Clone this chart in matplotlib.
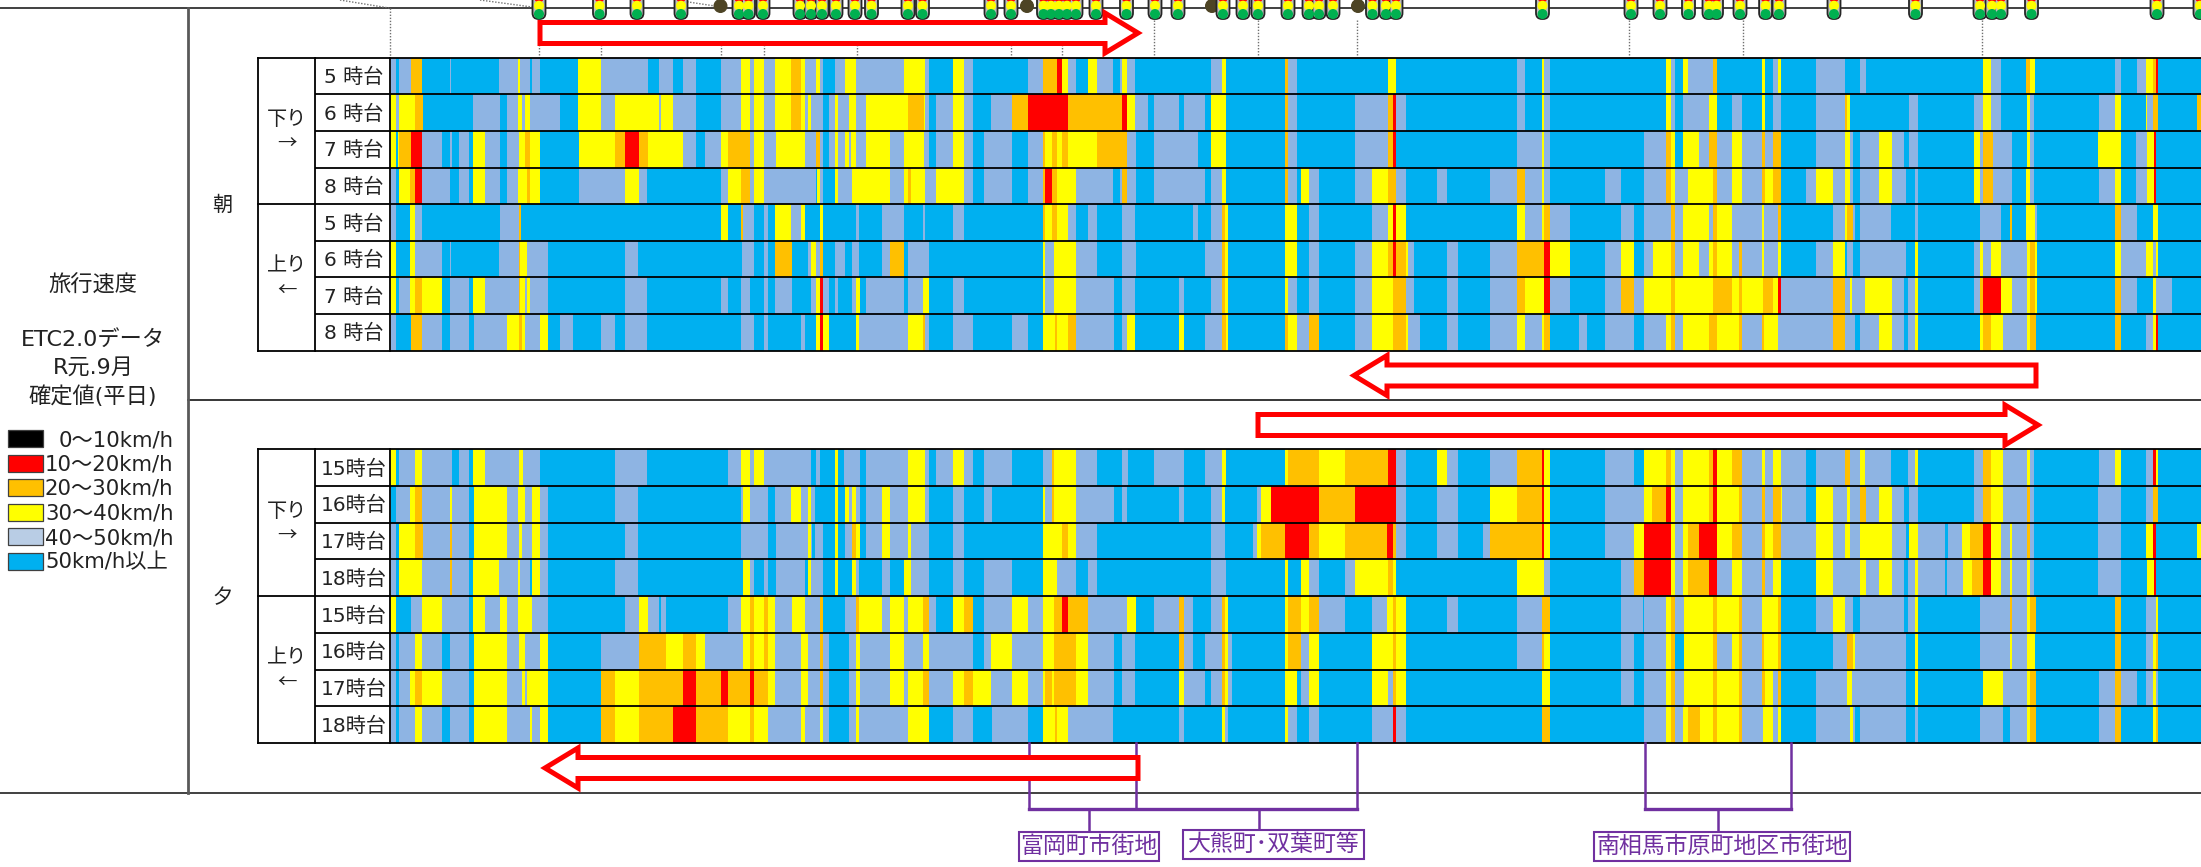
#%% IMPORTS                    ~~~~~~~~~~~~~~~~~~~~~~~~~~~~~~~~~~~~~~~~~~~~
import matplotlib
matplotlib.use('Agg')
import matplotlib.pyplot as plt
from matplotlib.patches import FancyBboxPatch, Polygon, Rectangle, Circle

plt.rcParams['font.family'] = ['DejaVu Sans', 'Noto Sans CJK JP']

#%% DATA                       ~~~~~~~~~~~~~~~~~~~~~~~~~~~~~~~~~~~~~~~~~~~~
# speed classes, same order as the legend
K, R, O, Y, L, B = 0, 1, 2, 3, 4, 5
legend_labels = ['0～10km/h', '10～20km/h', '20～30km/h', '30～40km/h', '40～50km/h', '50km/h以上']
legend_colors = ['#000000', '#FF0000', '#FFC000', '#FFFF00', '#B9CDE5', '#00B0F0']
class_colors = {K: '#000000', R: '#FF0000', O: '#FFC000', Y: '#FFFF00', L: '#8EB4E3', B: '#00B0F0'}

# each row: (end of section along the road, speed class)
road_start = 390.7
am_down_5 = [(396,L),(399,B),(411,L),(421.5,O),(450,B),(451,L),(499,B),(518,L),(520,Y),(529.5,L),(532,B),(540,L),(578,B),(601,Y),(648,L),(659,B),(673,L),(683,B),(696,L),(721,B),(741,L),(750,Y),(754,L),(764,Y),(775,L),(791,Y),(801,O),(805,Y),(816,L),(820,Y),(823,L),(835,B),(845,L),(856,Y),(904,L),(925,Y),(929,L),(953,B),(964,Y),(973,L),(1028,B),(1043,L),(1057,O),(1062,R),(1068,Y),(1076,L),(1088,B),(1097,Y),(1113,L),(1120,B),(1122,L),(1127,Y),(1135,L),(1211,B),(1222,L),(1226,Y),(1285,B),(1287.5,O),(1297,L),(1388,B),(1396,Y),(1517,B),(1525,L),(1542,B),(1544,Y),(1550,L),(1666,B),(1670.5,Y),(1675,L),(1683,B),(1688,Y),(1713,L),(1717,O),(1762,B),(1765,Y),(1773,B),(1778,L),(1781,Y),(1816,B),(1845,L),(1860,B),(1866,L),(1983,B),(1991,Y),(2001,L),(2025.5,B),(2030,O),(2035,Y),(2115,B),(2121,L),(2137,B),(2146,L),(2153,Y),(2156,O),(2158,R),(2201,B)]
am_down_6 = [(396,Y),(399,L),(415,Y),(423,O),(473,B),(500,L),(507,B),(518,L),(522,Y),(525,L),(529.5,Y),(560,L),(578,B),(601,Y),(615,L),(659,Y),(661,L),(673,Y),(696,L),(721,B),(741,L),(750,Y),(754,L),(764,Y),(775,L),(791,Y),(801,O),(805,Y),(808,L),(811,Y),(823,L),(829,B),(835,L),(837.5,Y),(849,L),(856,Y),(866,L),(908,Y),(923.6,O),(925,Y),(929,L),(936,B),(953,L),(964,Y),(973,L),(991,B),(1012,L),(1028,O),(1068,R),(1122,O),(1127,R),(1135,Y),(1148,L),(1154,B),(1179,L),(1184,B),(1205,L),(1211,B),(1226,Y),(1285,B),(1287.5,O),(1297,L),(1355,B),(1387.5,L),(1393,O),(1396,R),(1406,L),(1517,B),(1525,L),(1542,B),(1544,Y),(1550,L),(1666,B),(1670.5,Y),(1675,L),(1683,B),(1709,L),(1717,Y),(1732,B),(1742,L),(1762,B),(1765,Y),(1773,B),(1781,L),(1816,B),(1845,L),(1847,O),(1850,Y),(1909,B),(1918,L),(1974,B),(1983,L),(1991,Y),(2001,L),(2027,B),(2030,Y),(2034,L),(2099,B),(2115,L),(2121,Y),(2146,B),(2147,Y),(2153,L),(2158,O),(2197,B),(2201,O)]
am_down_7 = [(396,Y),(397.5,B),(399,Y),(411,O),(421.5,R),(442,L),(450,B),(452,L),(459,B),(469,L),(473,B),(485,Y),(500,L),(507,B),(519,L),(525,Y),(530,O),(540,Y),(579,B),(615,Y),(625,O),(639,R),(648,O),(683,Y),(696,L),(705,B),(721,L),(728,Y),(750,O),(754,L),(764,Y),(776,L),(805,Y),(816,L),(820,O),(823,L),(829,B),(835,L),(837.5,Y),(845,L),(849,Y),(850.5,L),(856,Y),(866,L),(890,Y),(904,L),(923.6,Y),(929,L),(936,B),(953,L),(964,Y),(973,L),(984,B),(1012,L),(1028,B),(1043,L),(1045,O),(1052,Y),(1057,O),(1062,Y),(1068,O),(1097,Y),(1127,O),(1136,L),(1154,B),(1198,L),(1211,B),(1226,Y),(1285,B),(1287.5,O),(1297,L),(1355,B),(1387.5,L),(1393,O),(1396,R),(1517,B),(1542,L),(1544,Y),(1550,L),(1644,B),(1666,L),(1670.5,O),(1675,Y),(1683,B),(1699,Y),(1709,L),(1717,O),(1732,L),(1742,Y),(1762,L),(1765,O),(1773,L),(1781,O),(1816,B),(1845,L),(1850,Y),(1853,L),(1860,B),(1879,L),(1892,Y),(1904,L),(1909,B),(1918,L),(1974,B),(1980,Y),(1983,L),(1992.5,O),(2012,L),(2027,B),(2030,Y),(2034,L),(2098,B),(2121,Y),(2136,B),(2147,L),(2154,Y),(2156,R),(2201,B)]
am_down_8 = [(396,L),(399,B),(410,Y),(415,O),(421.5,R),(450,L),(459,B),(469,L),(473,B),(485,Y),(500,L),(507,B),(518,L),(527,Y),(530,O),(540,Y),(579,B),(625,L),(639,Y),(647,L),(721,B),(728,L),(741,Y),(750,O),(754,L),(764,Y),(815.5,L),(817,B),(820,Y),(823,L),(835,B),(837.5,Y),(852,L),(890,Y),(904,L),(908,Y),(911,O),(925,Y),(936,L),(964,Y),(973,L),(984,B),(1012,L),(1028,B),(1043,L),(1045,O),(1052,R),(1057,O),(1076,Y),(1113,L),(1120,B),(1122,L),(1127,O),(1136,L),(1154,B),(1205,L),(1211,B),(1222,L),(1226,Y),(1285,B),(1287.5,O),(1297,L),(1301,B),(1309,Y),(1319,L),(1355,B),(1372,L),(1388,Y),(1396,O),(1406,L),(1437,B),(1447,L),(1490,B),(1517,L),(1525,O),(1542,L),(1544,Y),(1550,L),(1605,B),(1621,L),(1644,B),(1666,L),(1670.5,O),(1675,Y),(1688,L),(1713,Y),(1717,O),(1732,L),(1742,Y),(1762,L),(1765,O),(1773,Y),(1781,O),(1806,B),(1816,L),(1833,Y),(1845,L),(1850,Y),(1853,L),(1860,B),(1879,L),(1892,Y),(1905.5,L),(1915,B),(1918,L),(1974,B),(1980,Y),(1983,L),(1992.5,O),(2012,L),(2025.5,B),(2030,Y),(2034,L),(2099,B),(2115,L),(2121,Y),(2136,B),(2147,L),(2154,Y),(2156,R),(2201,B)]
am_up_5 = [(396,L),(410,B),(415,Y),(421.5,L),(500,B),(519,L),(520.5,O),(721,B),(728,Y),(741,B),(742.6,O),(754,L),(764,B),(768,L),(775,B),(791,Y),(801,L),(805,Y),(820,B),(823,Y),(856,B),(859,L),(882,B),(904,L),(923,B),(925,L),(953,B),(964,L),(1043,B),(1045,O),(1052,Y),(1057,O),(1068,Y),(1076,L),(1088,B),(1097,L),(1122,B),(1135,L),(1193,B),(1198,L),(1211,B),(1222,L),(1224.6,O),(1228,Y),(1285,B),(1297,Y),(1309,B),(1319,L),(1372,B),(1387.5,L),(1393,Y),(1396,R),(1406,Y),(1517,B),(1525,Y),(1542,L),(1544,Y),(1550,O),(1570,L),(1621,B),(1634,L),(1644,B),(1670.5,L),(1675,O),(1683,L),(1709,Y),(1713,L),(1717,O),(1732,Y),(1762,L),(1764,Y),(1778,L),(1781,O),(1833,B),(1845,L),(1847,Y),(1853,O),(1855,L),(1860,B),(1891,L),(1915,B),(1918,L),(1980,B),(2001,L),(2010,B),(2012,O),(2025.5,B),(2035,Y),(2037,L),(2115,B),(2121,O),(2137,L),(2153,B),(2158,Y),(2201,B)]
am_up_6 = [(396,Y),(410,B),(415,Y),(442,L),(450,B),(451,L),(499,B),(519,L),(520,O),(527,Y),(548,L),(625,B),(638,L),(742,B),(754,L),(764,B),(768,L),(775,B),(792,O),(808,B),(811,L),(815.5,Y),(820,L),(823,O),(835,B),(845,L),(852,B),(859,L),(882,B),(890,L),(904,O),(908,B),(929,L),(1043,B),(1045,Y),(1054,L),(1076,Y),(1097,L),(1122,B),(1136,L),(1205,B),(1222,L),(1224.6,O),(1228,Y),(1285,B),(1297,Y),(1309,B),(1319,L),(1355,B),(1372,L),(1387.5,Y),(1393,O),(1396,R),(1406,O),(1408,Y),(1414,L),(1447,B),(1458,L),(1490,B),(1517,L),(1544,O),(1550,R),(1570,Y),(1605,B),(1621,L),(1634,Y),(1644,B),(1653,L),(1670.5,Y),(1675,O),(1683,L),(1699,Y),(1709,L),(1713,Y),(1717,O),(1732,Y),(1739,L),(1742,O),(1762,L),(1764,Y),(1778,L),(1781,Y),(1816,B),(1833,L),(1845,Y),(1846.5,B),(1853,L),(1860,B),(1905.5,L),(1915,B),(1918,Y),(1974,B),(1980,L),(1983,Y),(1991,L),(2001,Y),(2027,L),(2030,Y),(2035,O),(2037,Y),(2115,B),(2121,Y),(2146,L),(2153,Y),(2156,L),(2158,Y),(2201,B)]
am_up_7 = [(396,Y),(399,B),(410,L),(415,Y),(421.5,O),(442,Y),(450,B),(469,L),(473,B),(485,Y),(519,L),(520,O),(525,Y),(527,L),(530,Y),(548,L),(625,B),(647,L),(721,B),(728,L),(741,B),(750,L),(764,B),(768,L),(775,B),(792,L),(811,B),(816,L),(820,Y),(823,R),(829,L),(835,B),(837.5,L),(852,B),(856,L),(860,Y),(866,B),(904,L),(908,B),(923,L),(929,Y),(953,B),(964,L),(1043,B),(1045,Y),(1054,L),(1076,Y),(1114,L),(1122,B),(1135,L),(1179,B),(1184,L),(1211,B),(1222,L),(1224.6,O),(1228,Y),(1285,B),(1287.5,Y),(1297,L),(1309,B),(1319,L),(1355,B),(1372,L),(1393,Y),(1406,O),(1414,L),(1447,B),(1458,L),(1490,B),(1517,L),(1525,O),(1544,Y),(1550,R),(1570,L),(1605,B),(1621,L),(1634,O),(1644,L),(1670.5,Y),(1675,O),(1713,Y),(1732,O),(1739,Y),(1742,O),(1763,Y),(1773,O),(1778,Y),(1781,R),(1833,L),(1845,O),(1850,L),(1852,Y),(1865,L),(1892,Y),(1904,L),(1908,B),(1915,L),(1918,Y),(1974,B),(1980,L),(1983,O),(2001,R),(2012,Y),(2027,L),(2030,Y),(2035,O),(2037,Y),(2115,B),(2121,O),(2137,L),(2153,B),(2156,Y),(2172,L),(2201,B)]
am_up_8 = [(396,L),(411,B),(421.5,O),(442,L),(450,B),(469,L),(474,B),(507,L),(519,Y),(522,O),(525,Y),(540,L),(548,Y),(560,B),(573,L),(601,B),(615,L),(625,B),(647,L),(741,B),(754,L),(764,B),(768,L),(801,B),(805,L),(816,B),(820,Y),(823,R),(829,Y),(856,B),(859,Y),(908,L),(923,Y),(925,O),(929,L),(953,B),(973,L),(1012,B),(1028,L),(1043,B),(1055,Y),(1057,O),(1068,Y),(1076,O),(1114,L),(1122,B),(1127,L),(1135,Y),(1179,B),(1184,Y),(1205,B),(1222,L),(1226,O),(1228,Y),(1285,B),(1287.5,O),(1297,Y),(1309,L),(1319,O),(1355,B),(1372,L),(1393,Y),(1406,O),(1408,Y),(1420,L),(1447,B),(1458,L),(1490,B),(1517,L),(1525,Y),(1542,L),(1544,Y),(1550,O),(1579,B),(1587,L),(1605,B),(1634,L),(1644,B),(1666,L),(1670.5,Y),(1675,O),(1683,L),(1709,Y),(1717,O),(1739,Y),(1742,O),(1762,L),(1764,O),(1778,Y),(1833,L),(1845,O),(1855,L),(1860,B),(1879,L),(1892,Y),(1904,L),(1908,B),(1915,L),(1918,Y),(1980,B),(1983,Y),(1991,O),(2003,Y),(2027,L),(2030,Y),(2036,O),(2115,B),(2121,O),(2146,B),(2153,L),(2156,Y),(2158,R),(2201,B)]
pm_down_15 = [(396,Y),(399,B),(415,L),(421.5,Y),(452,L),(459,B),(469,L),(473,B),(485,Y),(519,L),(523,Y),(540,L),(615,B),(647,L),(728,B),(741,L),(750,Y),(754,L),(764,Y),(811,L),(816,B),(820,L),(835,B),(837.5,Y),(844,B),(860,L),(866,B),(908,L),(925,Y),(929,L),(936,B),(953,L),(964,Y),(973,L),(984,B),(1012,L),(1043,B),(1052,L),(1054,O),(1076,Y),(1097,L),(1122,B),(1128,L),(1154,B),(1184,L),(1205,B),(1222,L),(1226,Y),(1285,B),(1287.5,Y),(1319,O),(1345,Y),(1388,O),(1396,R),(1406,L),(1437,B),(1447,Y),(1458,L),(1490,B),(1517,L),(1542,O),(1544,R),(1550,Y),(1605,B),(1634,L),(1644,B),(1666,Y),(1670.5,O),(1675,Y),(1683,L),(1709,Y),(1713,O),(1717,R),(1732,Y),(1742,O),(1762,L),(1765,Y),(1773,L),(1781,Y),(1806,L),(1816,B),(1845,L),(1850,O),(1860,L),(1865,Y),(1891,L),(1908,B),(1915,L),(1918,Y),(1974,B),(1983,L),(1991,O),(2003,Y),(2027,L),(2030,Y),(2034,L),(2099,B),(2115,L),(2121,Y),(2146,B),(2153,L),(2156,R),(2158,Y),(2201,B)]
pm_down_16 = [(396,B),(410,L),(415,Y),(421.5,O),(450,L),(452,Y),(469,L),(474,B),(507,Y),(518,L),(525,Y),(532,L),(540,Y),(548,L),(615,B),(638,L),(741,B),(743,L),(750,Y),(768,L),(775,B),(791,L),(801,Y),(808,L),(811,Y),(815,L),(835,B),(837.5,Y),(845,B),(849,Y),(852,L),(856,Y),(860,L),(866,B),(882,L),(890,Y),(908,L),(925,Y),(929,L),(953,B),(964,L),(984,B),(992,L),(1043,B),(1045,Y),(1052,L),(1054,O),(1076,Y),(1114,L),(1122,B),(1127,L),(1179,B),(1184,L),(1211,B),(1222,L),(1225,Y),(1257,B),(1261,L),(1271,Y),(1319,R),(1355,O),(1396,R),(1406,L),(1437,B),(1458,L),(1490,B),(1517,Y),(1542,O),(1544,R),(1550,Y),(1605,B),(1644,L),(1652,Y),(1666,O),(1670.5,R),(1675,Y),(1683,L),(1709,Y),(1713,O),(1717,R),(1739,Y),(1742,O),(1762,L),(1765,O),(1773,L),(1781,O),(1782,Y),(1806,L),(1816,B),(1833,Y),(1847,L),(1850,Y),(1860,L),(1866,O),(1879,L),(1892,Y),(1904,L),(1909,B),(1918,L),(1974,B),(1983,L),(1991,O),(2003,Y),(2027,L),(2030,O),(2034,L),(2098,B),(2121,L),(2146,B),(2153,L),(2158,O),(2201,B)]
pm_down_17 = [(396,L),(399,B),(415,Y),(423,O),(450,L),(452,O),(469,L),(474,B),(507,Y),(519,L),(522,Y),(532,L),(540,Y),(548,L),(625,B),(638,L),(741,B),(768,L),(776,B),(808,L),(811,Y),(812,L),(815,B),(823,L),(835,B),(837.5,Y),(845,B),(852,L),(856,O),(860,Y),(866,B),(882,L),(890,Y),(908,L),(911,Y),(929,L),(953,B),(964,L),(1043,B),(1062,Y),(1068,O),(1076,Y),(1097,L),(1211,B),(1225,L),(1253,B),(1257,L),(1261,Y),(1285,O),(1309,R),(1319,O),(1345,Y),(1387,O),(1393,R),(1396,O),(1406,L),(1437,B),(1458,L),(1483,B),(1490,L),(1542,O),(1544,R),(1550,Y),(1605,B),(1634,L),(1644,Y),(1670.5,R),(1675,Y),(1683,L),(1688,Y),(1699,O),(1717,R),(1732,Y),(1742,O),(1762,L),(1765,O),(1773,Y),(1781,O),(1816,L),(1833,Y),(1845,L),(1850,Y),(1860,L),(1892,Y),(1905.5,L),(1909,B),(1918,Y),(1945,L),(1948,B),(1962,L),(1969.5,Y),(1983,O),(1991,R),(2001,Y),(2010,L),(2012,Y),(2027,L),(2030,O),(2034,L),(2098,B),(2121,L),(2146,B),(2153,Y),(2156,R),(2197,B),(2201,Y)]
pm_down_18 = [(396,L),(399,B),(421.5,Y),(450,L),(452,O),(469,L),(473,B),(499,Y),(518,L),(520,Y),(529.5,L),(532,B),(540,Y),(548,L),(615,B),(638,L),(743,B),(750,Y),(754,L),(764,B),(768,L),(776,B),(805,L),(808,B),(811,Y),(823,L),(835,B),(837.5,Y),(852,B),(856,Y),(859,L),(882,B),(890,L),(904,B),(911,Y),(929,L),(953,B),(964,L),(984,B),(1012,L),(1043,B),(1057,Y),(1076,L),(1088,B),(1097,L),(1211,B),(1226,L),(1285,B),(1288,Y),(1301,B),(1309,Y),(1319,L),(1345,B),(1355,L),(1387.5,Y),(1393,O),(1396,Y),(1517,B),(1544,Y),(1550,L),(1621,B),(1634,L),(1644,O),(1670.5,R),(1675,Y),(1683,L),(1688,Y),(1709,O),(1717,R),(1732,L),(1742,Y),(1762,L),(1765,O),(1773,L),(1781,Y),(1816,B),(1833,Y),(1860,L),(1866,Y),(1879,L),(1892,Y),(1904,L),(1908,B),(1915,L),(1918,Y),(1945,L),(1947,B),(1963,L),(1972,Y),(1983,O),(1991,R),(2001,Y),(2010,L),(2012,Y),(2027,L),(2030,Y),(2034,L),(2098,B),(2121,L),(2147,B),(2154,Y),(2156,R),(2201,B)]
pm_up_15 = [(396,Y),(411,B),(421.5,L),(442,Y),(469,L),(473,B),(485,Y),(500,L),(507,Y),(518,L),(532,Y),(548,L),(625,B),(639,L),(648,Y),(659,L),(661,B),(666,L),(728,B),(741,L),(750,Y),(754,O),(764,Y),(768,O),(775,Y),(792,L),(805,Y),(820,L),(823,O),(845,B),(856,L),(859,O),(882,Y),(890,L),(904,Y),(908,L),(923,Y),(929,O),(936,L),(953,B),(964,Y),(973,O),(984,B),(1012,L),(1028,Y),(1043,L),(1054,Y),(1062,O),(1068,R),(1088,O),(1127,L),(1136,Y),(1154,B),(1179,L),(1184,O),(1193,L),(1211,B),(1222,L),(1224.6,O),(1228,Y),(1285,B),(1287.5,Y),(1301,O),(1309,Y),(1319,O),(1345,L),(1372,B),(1387,L),(1393,Y),(1396,O),(1406,Y),(1447,B),(1458,L),(1517,B),(1542,L),(1550,O),(1621,B),(1643,L),(1644,B),(1666,L),(1670.5,Y),(1675,O),(1684,L),(1713,Y),(1717,O),(1739,Y),(1742,O),(1762,L),(1778,Y),(1781,O),(1816,B),(1833,L),(1845,Y),(1853,L),(1860,B),(1904,L),(1908,B),(1915,L),(1918,Y),(1980,B),(2010,L),(2012,O),(2027,L),(2030,Y),(2036,O),(2115,B),(2121,O),(2146,B),(2156,L),(2158,Y),(2201,B)]
pm_up_16 = [(396,L),(399,B),(415,L),(421.5,Y),(442,L),(450,B),(469,L),(474,B),(507,Y),(519,L),(525,Y),(540,L),(548,Y),(601,B),(639,L),(666,O),(683,Y),(696,O),(705,Y),(743,L),(750,Y),(754,O),(764,Y),(768,O),(775,Y),(801,L),(808,Y),(820,L),(823,O),(829,L),(849,B),(856,L),(860,Y),(890,L),(904,Y),(923,L),(929,Y),(973,L),(984,B),(991,L),(1012,Y),(1043,L),(1054,Y),(1076,O),(1088,Y),(1114,L),(1122,B),(1135,L),(1179,B),(1184,O),(1193,L),(1205,B),(1222,L),(1224.6,O),(1228,Y),(1232,L),(1285,B),(1287.5,Y),(1301,O),(1309,L),(1319,Y),(1372,B),(1393,Y),(1396,O),(1406,Y),(1517,B),(1542,L),(1544,O),(1550,Y),(1621,B),(1634,L),(1644,B),(1666,L),(1670.5,Y),(1675,O),(1684,B),(1713,Y),(1717,O),(1732,L),(1739,Y),(1742,O),(1762,L),(1764,O),(1778,Y),(1781,O),(1833,B),(1847,L),(1853,O),(1855,Y),(1905.5,L),(1915,B),(1918,Y),(1980,B),(2010,L),(2012,Y),(2027,L),(2035,Y),(2115,B),(2121,O),(2146,B),(2153,L),(2156,Y),(2158,O),(2201,B)]
pm_up_17 = [(396,L),(399,B),(410,L),(415,Y),(421.5,O),(442,Y),(469,L),(474,B),(507,Y),(522,L),(525,Y),(527,L),(548,Y),(601,B),(615,O),(639,Y),(683,O),(696,R),(721,O),(728,R),(750,O),(754,R),(768,O),(775,Y),(801,L),(808,Y),(820,L),(823,O),(829,L),(849,B),(856,L),(860,Y),(890,L),(904,Y),(908,L),(923,Y),(929,O),(953,L),(964,Y),(973,O),(991,Y),(1012,L),(1028,Y),(1043,L),(1045,Y),(1052,O),(1054,Y),(1076,O),(1088,Y),(1114,L),(1122,B),(1135,L),(1179,B),(1184,Y),(1205,L),(1211,B),(1222,L),(1224.6,O),(1228,Y),(1232,L),(1285,B),(1297,Y),(1301,B),(1309,L),(1319,Y),(1372,B),(1387.5,Y),(1393,L),(1396,O),(1406,Y),(1542,B),(1550,Y),(1621,B),(1634,L),(1644,B),(1666,L),(1670.5,Y),(1675,O),(1684,L),(1713,Y),(1717,O),(1739,Y),(1742,O),(1762,L),(1765,O),(1773,Y),(1778,L),(1781,O),(1816,B),(1847,L),(1852,Y),(1905.5,L),(1915,B),(1918,Y),(1983,B),(2003,Y),(2027,L),(2030,Y),(2036,O),(2099,B),(2115,L),(2121,O),(2137,L),(2146,B),(2153,L),(2156,Y),(2158,L),(2201,B)]
pm_up_18 = [(396,L),(399,B),(415,L),(421.5,Y),(442,L),(450,B),(469,L),(474,B),(507,Y),(529.5,L),(532,Y),(540,L),(548,Y),(601,B),(615,O),(639,Y),(673,O),(696,R),(728,O),(750,Y),(754,O),(768,Y),(801,L),(805,Y),(820,L),(823,Y),(829,L),(849,B),(856,L),(859,Y),(908,L),(929,Y),(953,B),(973,L),(992,B),(1028,L),(1043,B),(1055,Y),(1057,O),(1068,Y),(1113,L),(1179,B),(1184,L),(1222,B),(1225,Y),(1228,L),(1285,B),(1288,Y),(1297,L),(1309,B),(1319,L),(1372,B),(1393,L),(1396,R),(1406,L),(1542,B),(1550,O),(1644,B),(1666,L),(1670.5,Y),(1675,O),(1683,L),(1688,Y),(1700,O),(1713,Y),(1717,O),(1739,Y),(1742,O),(1763,L),(1773,Y),(1778,L),(1781,Y),(1816,B),(1850,L),(1853,Y),(1855,L),(1860,B),(1905.5,L),(1915,B),(1918,L),(1980,B),(2003,L),(2010,B),(2027,L),(2030,Y),(2036,O),(2099,B),(2115,L),(2121,O),(2153,B),(2156,Y),(2158,O),(2201,B)]

am_rows = [am_down_5, am_down_6, am_down_7, am_down_8, am_up_5, am_up_6, am_up_7, am_up_8]
pm_rows = [pm_down_15, pm_down_16, pm_down_17, pm_down_18, pm_up_15, pm_up_16, pm_up_17, pm_up_18]
am_hours = ['5 時台', '6 時台', '7 時台', '8 時台', '5 時台', '6 時台', '7 時台', '8 時台']
pm_hours = ['15時台', '16時台', '17時台', '18時台', '15時台', '16時台', '17時台', '18時台']

# road furniture along the top strip
signal_pos = [539,599.5,637,681,739,748.5,763,800,811,822,836,855,871.5,908,922.5,991,1011,1043.5,1051,1059,1067,1076,1096,1126.5,1155,1178,1223,1243,1258,1288,1309,1319,1333,1372.5,1386,1396,1542.5,1631,1660,1688.5,1709,1716.5,1740,1765.6,1779,1834,1915.5,1980,1992,2001,2031.5,2157,2200]
junction_pos = [720.5,741,1027,1212,1358]
leader_pos = [390,539,601,720.5,763.5,856.5,1011,1062,1154,1258,1357,1629,1743,1982]

#%% FUNCTION DEFINITIONS        ~~~~~~~~~~~~~~~~~~~~~~~~~~~~~~~~~~~~~~~~~~~~
def draw_speed_rows(ax, rows, hours, top, row_h):
    """One broken bar per hour row, then the grid and hour labels on top."""
    for i, row in enumerate(rows):
        segs, cols = [], []
        start = road_start
        for end, cls in row:
            segs.append((start, end - start))
            cols.append(class_colors[cls])
            start = end
        ax.broken_barh(segs, (top + i * row_h, row_h), facecolors=cols, linewidth=0, antialiased=False, zorder=2)
        ax.text(354, top + (i + 0.5) * row_h + 1.5, hours[i], ha='center', va='center', fontsize=14.5, color='#222222', zorder=6)
    bottom = top + 8 * row_h
    for i in range(9):
        ax.plot([315, 2201], [top + i * row_h] * 2, color='black', lw=1.3, zorder=3, solid_capstyle='butt')
    ax.plot([258, 315], [top, top], color='black', lw=1.3, zorder=3)
    ax.plot([258, 315], [bottom, bottom], color='black', lw=1.3, zorder=3)
    ax.plot([258, 315], [top + 4 * row_h] * 2, color='black', lw=1.3, zorder=3)
    for x in [258, 315, 390]:
        ax.plot([x, x], [top, bottom], color='black', lw=1.3, zorder=3)
    # direction labels
    ax.text(287, top + 1.69 * row_h, '下り', ha='center', va='center', fontsize=14.5, color='#222222')
    ax.text(287, top + 2.35 * row_h, '→', ha='center', va='center', fontsize=14, color='#222222', family='Noto Sans CJK JP')
    ax.text(287, top + 5.68 * row_h, '上り', ha='center', va='center', fontsize=14.5, color='#222222')
    ax.text(287, top + 6.35 * row_h, '←', ha='center', va='center', fontsize=14, color='#222222', family='Noto Sans CJK JP')


def draw_signal(ax, x):
    body = FancyBboxPatch((x - 5, -12), 10, 29.5, boxstyle='round,pad=1.5,rounding_size=6',
                          facecolor='#BFBFBF', edgecolor='#262626', lw=1.3, zorder=5)
    ax.add_patch(body)
    ax.add_patch(Circle((x, -2.6), 4.3, color='#FF0000', zorder=6))
    ax.add_patch(Circle((x, 5.7), 4.3, color='#FFFF00', zorder=6))
    ax.add_patch(Circle((x, 14), 4.3, color='#00B050', zorder=6))


def draw_arrow(ax, x_tail, x_tip, y):
    """Hollow red block arrow, tail to tip, either direction."""
    sign = 1 if x_tip > x_tail else -1
    base = x_tip - sign * 33
    pts = [(x_tail, y - 10.5), (base, y - 10.5), (base, y - 20), (x_tip, y), (base, y + 20), (base, y + 10.5), (x_tail, y + 10.5)]
    ax.add_patch(Polygon(pts, closed=True, facecolor='white', edgecolor='#FF0000', lw=3.6, joinstyle='miter', zorder=7))


def draw_bracket(ax, left, right, stems, low):
    for x in [left, right]:
        ax.plot([x, x], [743, low], color=PURPLE, lw=1.8, zorder=4)
    ax.plot([left, right], [low, low], color=PURPLE, lw=2.4, zorder=4)
    for x, end in stems:
        ax.plot([x, x], [low, end], color=PURPLE, lw=1.8, zorder=4)


def draw_label(ax, x0, x1, y0, y1, text):
    ax.add_patch(Rectangle((x0, y0), x1 - x0, y1 - y0, facecolor='white', edgecolor=PURPLE, lw=1.5, zorder=5))
    ax.text((x0 + x1) / 2, (y0 + y1) / 2, text, ha='center', va='center', fontsize=16.5, color=PURPLE, zorder=6,
            family=['Noto Sans CJK JP', 'DejaVu Sans'])

#%% SELF-RUN                   ~~~~~~~~~~~~~~~~~~~~~~~~~~~~~~~~~~~~~~~~~~~~
PURPLE = '#7030A0'

fig = plt.figure(figsize=(22.01, 8.67), dpi=100)
ax = fig.add_axes([0, 0, 1, 1])
ax.set_xlim(0, 2201)
ax.set_ylim(867, 0)
ax.axis('off')

# frame lines
ax.plot([0, 2201], [8.3, 8.3], color='#404040', lw=1.4, zorder=1)
ax.plot([0, 2201], [793, 793], color='#404040', lw=1.4, zorder=1)
ax.plot([188, 2201], [400, 400], color='black', lw=1.1, zorder=1)
ax.plot([188, 188], [8.3, 793], color='#595959', lw=2, zorder=1)

# top strip
for x in leader_pos:
    ax.plot([x, x], [8.3 if x == 390 else 20, 57], color='#707070', lw=1.0, ls=(0, (1, 1.2)), zorder=1)
ax.plot([340, 389], [0, 8], color='#707070', lw=1.0, ls=(0, (1, 1.2)), zorder=1)
ax.plot([480, 532], [0, 7], color='#707070', lw=1.0, ls=(0, (1, 1.2)), zorder=1)
ax.plot([675, 715], [0, 6], color='#707070', lw=1.0, ls=(0, (1, 1.2)), zorder=1)
for x in junction_pos:
    ax.add_patch(Circle((x, 6), 6.3, color='#4D4425', zorder=4))
for x in signal_pos:
    draw_signal(ax, x)

draw_speed_rows(ax, am_rows, am_hours, 57.7, 36.6)
draw_speed_rows(ax, pm_rows, pm_hours, 449.3, 36.7)

draw_arrow(ax, 540, 1138, 33)
draw_arrow(ax, 2036, 1354, 375.5)
draw_arrow(ax, 1258, 2038, 425)
draw_arrow(ax, 1138, 545, 768)

ax.text(222.7, 205, '朝', ha='center', va='center', fontsize=14.5, color='#222222')
ax.text(222.7, 598, '夕', ha='center', va='center', fontsize=14.5, color='#222222')

# left hand panel
ax.text(93, 285, '旅行速度', ha='center', va='center', fontsize=16, color='#222222')
ax.text(93, 340, 'ETC2.0データ', ha='center', va='center', fontsize=16, color='#222222')
ax.text(93, 368, 'R元.9月', ha='center', va='center', fontsize=16, color='#222222')
ax.text(93, 396, '確定値(平日)', ha='center', va='center', fontsize=16, color='#222222')

for i, (label, col) in enumerate(zip(legend_labels, legend_colors)):
    y = 438.5 + i * 24.5
    ax.add_patch(Rectangle((8, y - 8.5), 35, 17, facecolor=col, edgecolor='#404040', lw=0.9, zorder=3))
    ax.text(59 if i == 0 else 45, y + 1.5, label, ha='left', va='center', fontsize=15.3, color='#222222')

# purple brackets and town labels
draw_bracket(ax, 1029, 1357, [(1089, 832), (1259, 830)], 809)
ax.plot([1136, 1136], [743, 809], color=PURPLE, lw=1.8, zorder=4)
draw_bracket(ax, 1645, 1791, [(1718, 832)], 809)
draw_label(ax, 1018.5, 1159, 832, 861, '富岡町市街地')
draw_label(ax, 1183, 1364, 830, 859, '大熊町･双葉町等')
draw_label(ax, 1594, 1850, 832, 861, '南相馬市原町地区市街地')

plt.savefig('out.png', dpi=100)
plt.close()
